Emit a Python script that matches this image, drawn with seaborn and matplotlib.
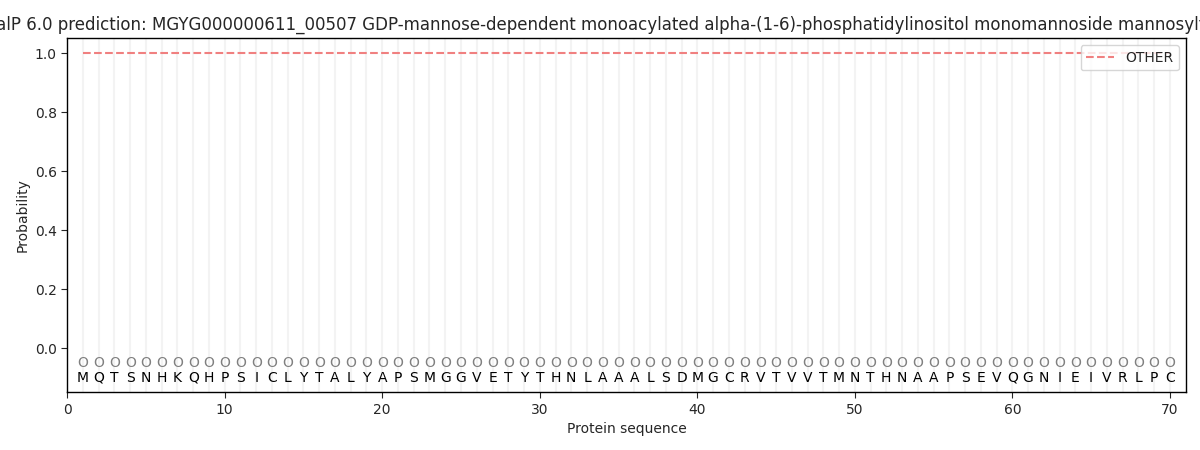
import numpy as np
import pandas as pd
import matplotlib
matplotlib.use("Agg")
import matplotlib.pyplot as plt
import seaborn as sns

sequence = list("MQTSNHKQHPSICLYTALYAPSMGGVETYTHNLAAALSDMGCRVTVVTMNTHNAAPSEVQGNIEIVRLPC")
positions = list(range(1, len(sequence) + 1))
other_prob = [1.0] * len(sequence)
region_labels = ["O"] * len(sequence)

title = ("SignalP 6.0 prediction: MGYG000000611_00507 GDP-mannose-dependent monoacylated "
         "alpha-(1-6)-phosphatidylinositol monomannoside mannosyltransferase")

sns.set_style("white")
plt.rcParams['font.family'] = ['DejaVu Sans']

fig, ax = plt.subplots(figsize=(12, 4.5), dpi=100)

for p in positions:
    ax.axvline(p, color='#f3f3f3', linewidth=1.5, zorder=0)

df = pd.DataFrame({'pos': positions, 'prob': other_prob})
sns.lineplot(data=df, x='pos', y='prob', ax=ax, color='#f08080', linestyle='--',
             linewidth=1.5, label='OTHER')

for p, aa, lab in zip(positions, sequence, region_labels):
    ax.text(p, -0.05, lab, ha='center', va='center', fontsize=10, color='gray')
    ax.text(p, -0.1, aa, ha='center', va='center', fontsize=10, color='black')

ax.set_xlim(0, len(sequence) + 1)
ax.set_ylim(-0.15, 1.05)
ax.set_xlabel('Protein sequence')
ax.set_ylabel('Probability')
ax.set_title(title, fontsize=12)
ax.tick_params(axis='both', which='major', bottom=True, left=True, length=4)
for s in ax.spines.values():
    s.set_color('black')
    s.set_linewidth(1)
ax.legend(loc='upper right')

fig.subplots_adjust(left=0.056, right=0.988, top=0.915, bottom=0.128)
fig.savefig('out.png', dpi=100)
